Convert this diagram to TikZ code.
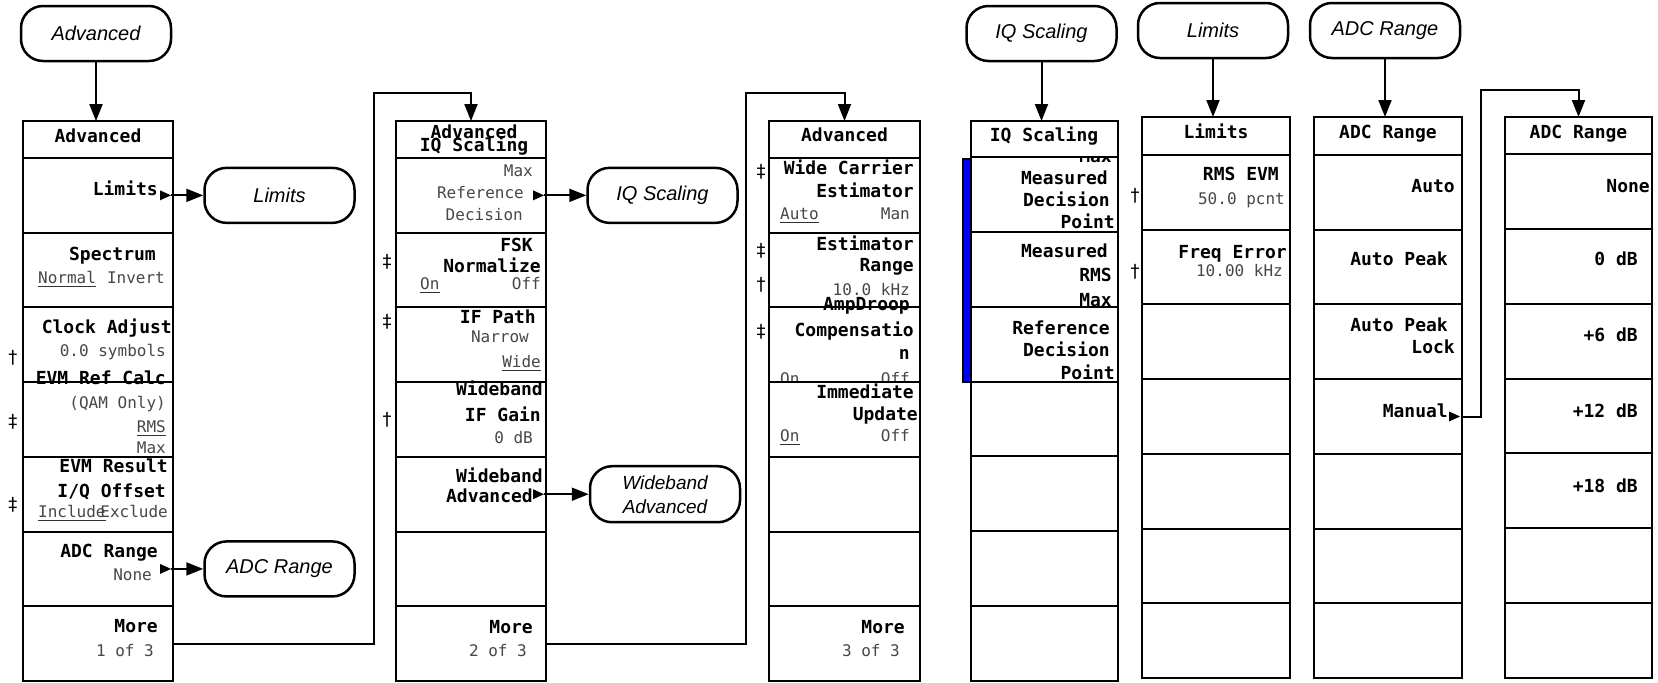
\documentclass[tikz,border=0pt]{standalone}
\usepackage{fontspec}
\usetikzlibrary{arrows.meta,calc}
\newfontfamily\keyfont{DejaVu Sans Mono}
\newfontfamily\ovlfont{Liberation Sans}
\newfontfamily\dagfont{DejaVu Sans}
\tikzset{
  rowbox/.style={draw, fill=white, line width=2pt, outer sep=0pt, inner sep=0pt, anchor=north west},
  lbl/.style={font=\keyfont\bfseries\fontsize{18}{20}\selectfont, inner sep=0pt, anchor=mid east},
  lblw/.style={lbl, anchor=mid west},
  ttl/.style={lbl, anchor=mid},
  val/.style={font=\keyfont\fontsize{16}{18}\selectfont, text=black!72, inner sep=0pt, anchor=mid east},
  valw/.style={val, anchor=mid west},
  dag/.style={font=\dagfont\fontsize{18}{20}\selectfont, inner sep=0pt},
  oval/.style={draw, line width=2.5pt, rounded corners=22pt, minimum width=150pt, minimum height=55pt, inner sep=0pt, font=\ovlfont\itshape\fontsize{20}{24}\selectfont, align=center},
  conn/.style={line width=2pt, -{Triangle[length=17pt,width=13pt]}},
  uline/.style={line width=1.8pt, black!80},
  bluebar/.style={draw, fill=blue, line width=1.5pt},
}
\newcommand\mkmenu[6]{%
  \node[rowbox, minimum width=#3, minimum height=#5-#4] (#1-0) at (#2,#4) {};
  \foreach \i in {1,...,7}{
    \pgfmathsetmacro\rtop{#5+(\i-1)*(#6-#5)/7}
    \node[rowbox, minimum width=#3, minimum height={(#6-#5)/7}] (#1-\i) at (#2,\rtop) {};
  }%
}
\newcommand\tri[1]{\fill ([xshift=-13pt,yshift=5pt]#1.east) -- ([xshift=-2pt]#1.east) -- ([xshift=-13pt,yshift=-5pt]#1.east) -- cycle;}
\newcommand\ul[1]{\draw[uline] ([yshift=-3pt]#1.south west) -- ([yshift=-3pt]#1.south east);}
\begin{document}
\begin{tikzpicture}[x=1pt,y=-1pt]
\useasboundingbox (0,0) rectangle (1658,683);
% menus
\mkmenu{A}{23}{150}{121}{158}{681}
\mkmenu{B}{396}{150}{121}{158}{681}
\mkmenu{C}{769}{151}{121}{158}{681}
\mkmenu{D}{971}{147}{121}{157}{681}
\mkmenu{E}{1142}{148}{117}{155}{678}
\mkmenu{F}{1314}{148}{117}{155}{678}
\mkmenu{G}{1505}{147}{117}{154}{678}
\draw[bluebar] (963,159) rectangle (971,382);
% ovals
\node[oval] (O1) at (96,33.5) {Advanced};
\node[oval] (O2) at ([xshift=106.5pt]A-1.east) {Limits};
\node[oval] (O3) at ([xshift=106.5pt]A-6.east) {ADC Range};
\node[oval] (O4) at ([xshift=116.5pt]B-1.east) {IQ Scaling};
\node[oval, minimum height=56pt, font=\ovlfont\itshape\fontsize{19}{24}\selectfont] (O5) at ([xshift=119pt]B-5.east) {Wideband\\Advanced};
\node[oval] (O6) at (1041.5,33.5) {IQ Scaling};
\node[oval] (O7) at (1213,30.5) {Limits};
\node[oval] (O8) at (1385,30.5) {ADC Range};
% connectors
\draw[conn] (O1.south) -- (O1.south |- A-0.north);
\draw[conn] (O6.south) -- (O6.south |- D-0.north);
\draw[conn] (O7.south) -- (O7.south |- E-0.north);
\draw[conn] (O8.south) -- (O8.south |- F-0.north);
\coordinate (ab) at (374,93);
\coordinate (bc) at (746,93);
\coordinate (fg) at (1481,90);
\draw[conn] (A-7.east) -| (ab) -| (B-0.north);
\draw[conn] (B-7.east) -| (bc) -| (C-0.north);
\draw[conn] (F-4.east) -| (fg) -| (G-0.north);
\draw[conn] ([xshift=-2pt]A-1.east) -- (O2.west);
\draw[conn] ([xshift=-2pt]A-6.east) -- (O3.west);
\draw[conn] ([xshift=-2pt]B-1.east) -- (O4.west);
\draw[conn] ([xshift=-2pt]B-5.east) -- (O5.west);
\tri{A-1}\tri{A-6}\tri{B-1}\tri{B-5}\tri{F-4}
% Box A texts
\node[ttl] (a0) at (98,140) {Advanced};
\node[lbl] (a1) at (158,193) {Limits};
\node[lbl] (a2) at (156,258) {Spectrum};
\node[valw] (a3) at (38,281) {Normal}; \ul{a3}
\node[val] (a4) at (165,281) {Invert};
\node[lbl] (a5) at (172,331) {Clock Adjust};
\node[val] (a6) at (166,354) {0.0 symbols};
\node[lbl] (a7) at (166,382) {EVM Ref Calc};
\node[val] (a8) at (166,406) {(QAM Only)};
\node[val] (a9) at (166,430) {RMS}; \ul{a9}
\node[val] (a10) at (166,451) {Max};
\node[lbl] (a11) at (168,470) {EVM Result};
\node[lbl] (a12) at (166,495) {I/Q Offset};
\node[valw] (a13) at (38,515) {Include}; \ul{a13}
\node[val] (a14) at (168,515) {Exclude};
\node[lbl] (a15) at (158,555) {ADC Range};
\node[val] (a16) at (152,578) {None};
\node[lbl] (a17) at (158,630) {More};
\node[val] (a18) at (154,654) {1 of 3};
\node[dag] (ad1) at (13,358) {†};
\node[dag] (ad2) at (13,422) {‡};
\node[dag] (ad3) at (13,505) {‡};
% Box B texts
\node[ttl] (b0a) at (474,136) {Advanced};
\node[ttl] (b0b) at (474,149) {IQ Scaling};
\node[val] (b1) at (533,174) {Max};
\node[val] (b2) at (524,196) {Reference};
\node[val] (b3) at (523,218) {Decision};
\node[lbl] (b4) at (533,249) {FSK};
\node[lbl] (b5) at (541,270) {Normalize};
\node[valw] (b6) at (420,287) {On}; \ul{b6}
\node[val] (b7) at (541,287) {Off};
\node[lbl] (b8) at (536,321) {IF Path};
\node[val] (b9) at (529,340) {Narrow};
\node[val] (b10) at (541,365) {Wide}; \ul{b10}
\node[lbl] (b11) at (543,393) {Wideband};
\node[lbl] (b12) at (541,419) {IF Gain};
\node[val] (b13) at (533,441) {0 dB};
\node[lbl] (b14) at (543,480) {Wideband};
\node[lbl] (b15) at (533,500) {Advanced};
\node[lbl] (b16) at (533,631) {More};
\node[val] (b17) at (527,654) {2 of 3};
\node[dag] (bd1) at (387,262) {‡};
\node[dag] (bd2) at (387,322) {‡};
\node[dag] (bd3) at (387,420) {†};
% Box C texts
\node[ttl] (c0) at (844.5,139) {Advanced};
\node[lbl] (c1) at (914,172) {Wide Carrier};
\node[lbl] (c2) at (914,195) {Estimator};
\node[valw] (c3) at (780,217) {Auto}; \ul{c3}
\node[val] (c4) at (910,217) {Man};
\node[lbl] (c5) at (914,248) {Estimator};
\node[lbl] (c6) at (914,269) {Range};
\node[val] (c7) at (910,293) {10.0 kHz};
\node[lbl] (c8) at (910,308) {AmpDroop};
\node[lbl] (c9) at (914,334) {Compensatio};
\node[lbl] (c10) at (910,357) {n};
\begin{scope}
\clip ([yshift=1pt]C-3.north west) rectangle ([yshift=1.2pt]C-3.south east);
\node[valw] (c11) at (780,382) {On};
\node[val] (c12) at (910,382) {Off};
\end{scope}
\node[lbl] (c13) at (914,396) {Immediate};
\node[lbl] (c14) at (918,418) {Update};
\node[valw] (c15) at (780,439) {On}; \ul{c15}
\node[val] (c16) at (910,439) {Off};
\node[lbl] (c17) at (905,631) {More};
\node[val] (c18) at (900,654) {3 of 3};
\node[dag] (cd1) at (761,172) {‡};
\node[dag] (cd2) at (761,251) {‡};
\node[dag] (cd3) at (761,285) {†};
\node[dag] (cd4) at (761,332) {‡};
% Box D texts
\node[ttl] (d0) at (1044,139) {IQ Scaling};
\begin{scope}
\clip ([yshift=-1.2pt]D-1.north west) rectangle (D-1.south east);
\node[lbl] (d1) at (1112,160) {Max};
\end{scope}
\node[lbl] (d2) at (1108,182) {Measured};
\node[lbl] (d3) at (1110,204) {Decision};
\node[lbl] (d4) at (1115,226) {Point};
\node[lbl] (d5) at (1108,255) {Measured};
\node[lbl] (d6) at (1112,279) {RMS};
\node[lbl] (d7) at (1112,304) {Max};
\node[lbl] (d8) at (1110,332) {Reference};
\node[lbl] (d9) at (1110,354) {Decision};
\node[lbl] (d10) at (1115,377) {Point};
% Box E texts
\node[ttl] (e0) at (1216,136) {Limits};
\node[lbl] (e1) at (1279,178) {RMS EVM};
\node[val] (e2) at (1285,202) {50.0 pcnt};
\node[lbl] (e3) at (1287,256) {Freq Error};
\node[val] (e4) at (1283,274) {10.00 kHz};
\node[dag] (ed1) at (1135,196) {†};
\node[dag] (ed2) at (1135,272) {†};
% Box F texts
\node[ttl] (f0) at (1388,136) {ADC Range};
\node[lbl] (f1) at (1455,190) {Auto};
\node[lbl] (f2) at (1448,263) {Auto Peak};
\node[lbl] (f3) at (1448,329) {Auto Peak};
\node[lbl] (f4) at (1455,351) {Lock};
\node[lbl] (f5) at (1448,415) {Manual};
% Box G texts
\node[ttl] (g0) at (1578.5,136) {ADC Range};
\node[lbl] (g1) at (1650,190) {None};
\node[lbl] (g2) at (1638,263) {0 dB};
\node[lbl] (g3) at (1638,339) {+6 dB};
\node[lbl] (g4) at (1638,415) {+12 dB};
\node[lbl] (g5) at (1638,490) {+18 dB};
\end{tikzpicture}
\end{document}
